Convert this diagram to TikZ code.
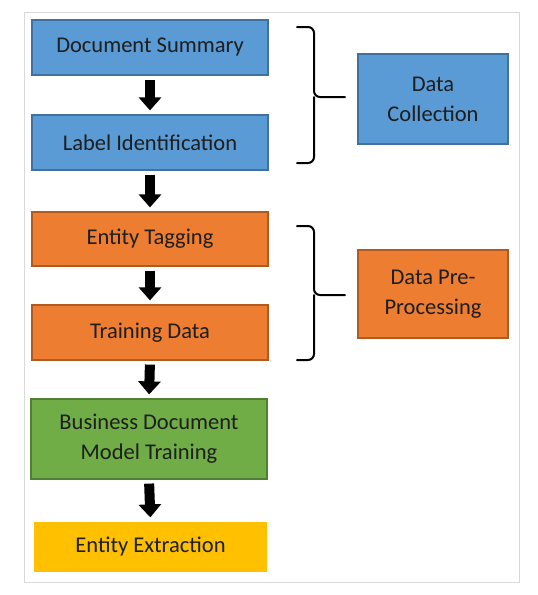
\documentclass[tikz,border=0pt]{standalone}
\usepackage{fontspec}
\setmainfont{Carlito}
\usetikzlibrary{arrows.meta}
\definecolor{bluefill}{HTML}{5B9BD5}
\definecolor{blueline}{HTML}{41719C}
\definecolor{orangefill}{HTML}{ED7D31}
\definecolor{orangeline}{HTML}{AE5A21}
\definecolor{greenfill}{HTML}{70AD47}
\definecolor{greenline}{HTML}{507E32}
\definecolor{yellowfill}{HTML}{FFC000}
\definecolor{framegray}{HTML}{D9D9D9}
\definecolor{txt}{HTML}{1E1E1E}
\begin{document}
\begin{tikzpicture}[x=1pt,y=-1pt,
  box/.style={rectangle, inner sep=0pt, line width=1.2pt, text=txt,
    font=\fontsize{22.5}{30}\selectfont, align=center},
  bluebox/.style={box, fill=bluefill, draw=blueline},
  orangebox/.style={box, fill=orangefill, draw=orangeline},
  greenbox/.style={box, fill=greenfill, draw=greenline},
  yellowbox/.style={box, fill=yellowfill},
  flow/.style={line width=10pt, black, shorten <=4pt, shorten >=4pt,
    -{Triangle[width=22pt,length=13pt]}},
  brace/.style={line width=2pt, black, rounded corners=6pt, line cap=round}
]
\useasboundingbox (0,0) rectangle (538,595);
\fill[white] (0,0) rectangle (538,595);
\draw[framegray, line width=1pt] (24,12) rectangle (519,582);

\node[bluebox, minimum width=236pt, minimum height=55pt] (ds) at (150,47.5) {Document Summary};
\node[bluebox, minimum width=236pt, minimum height=55pt] (li) at (150,142.5) {Label Identification};
\node[orangebox, minimum width=236pt, minimum height=54pt] (et) at (150,239) {Entity Tagging};
\node[orangebox, minimum width=236pt, minimum height=55pt] (td) at (150,332.5) {Training Data};
\node[greenbox, minimum width=236pt, minimum height=80pt] (bd) at (149,439) {Business Document\\Model Training};
\node[yellowbox, minimum width=233pt, minimum height=50pt] (ee) at (150.5,547) {Entity Extraction};

\node[bluebox, minimum width=150pt, minimum height=90pt] (dc) at (433,99) {Data\\Collection};
\node[orangebox, minimum width=150pt, minimum height=88pt] (dp) at (433,294) {Data Pre-\\Processing};

\draw[flow] (ds.south) -- (li.north);
\draw[flow] (li.south) -- (et.north);
\draw[flow] (et.south) -- (td.north);
\draw[flow] (td.south) -- (bd.north);
\draw[flow] (bd.south) -- (ee.north);

\coordinate (b1t) at (297,27);
\coordinate (b1m) at (345,97);
\coordinate (b1b) at (297,163);
\draw[brace] (b1t) -- (314,27) -- (314,97) -- (b1m);
\draw[brace] (b1b) -- (314,163) -- (314,97);

\coordinate (b2t) at (297,226);
\coordinate (b2m) at (345,295);
\coordinate (b2b) at (297,360);
\draw[brace] (b2t) -- (314,226) -- (314,295) -- (b2m);
\draw[brace] (b2b) -- (314,360) -- (314,295);
\end{tikzpicture}
\end{document}
